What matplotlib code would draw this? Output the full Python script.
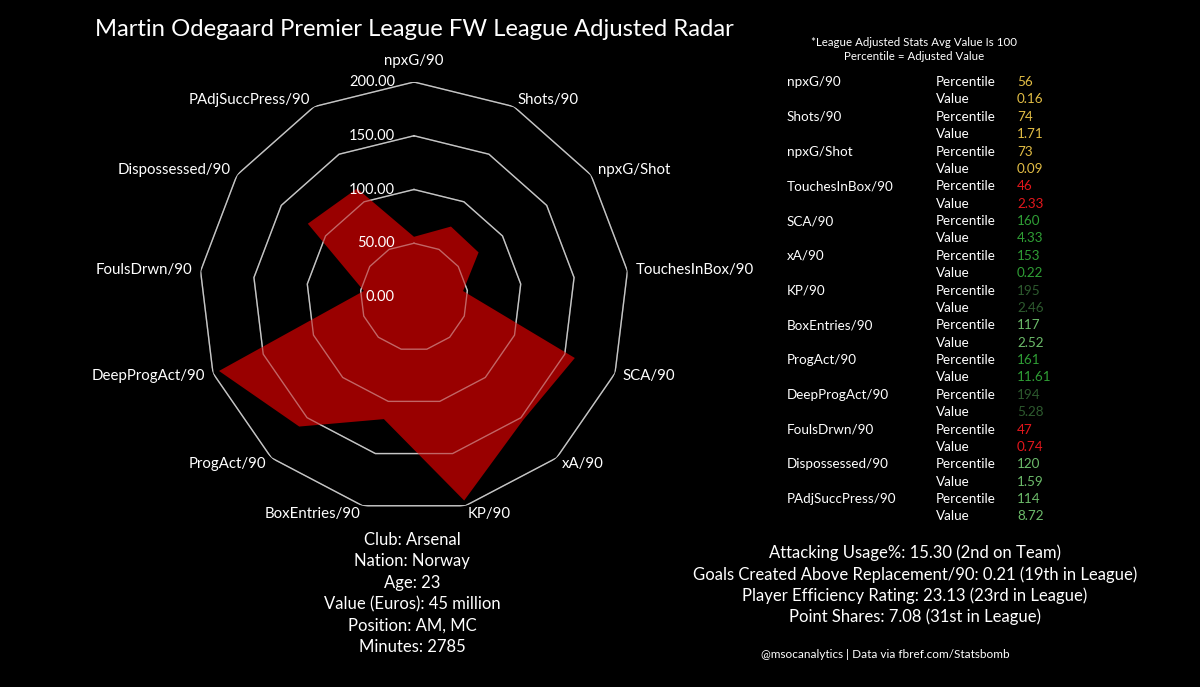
import numpy as np
import matplotlib
matplotlib.use("Agg")
import matplotlib.pyplot as plt
from matplotlib.transforms import offset_copy

plt.rcParams['font.family'] = ['Lato', 'DejaVu Sans']

# radar data (percentile = league adjusted value, avg 100)
metrics = ['npxG/90', 'Shots/90', 'npxG/Shot', 'TouchesInBox/90', 'SCA/90', 'xA/90', 'KP/90',
           'BoxEntries/90', 'ProgAct/90', 'DeepProgAct/90', 'FoulsDrwn/90', 'Dispossessed/90',
           'PAdjSuccPress/90']
percentiles = [56, 74, 73, 46, 160, 153, 195, 117, 161, 194, 47, 120, 114]
raw_values = ['0.16', '1.71', '0.09', '2.33', '4.33', '0.22', '2.46', '2.52', '11.61', '5.28',
              '0.74', '1.59', '8.72']
ring_values = [0, 50, 100, 150, 200]

player_info = ['Club: Arsenal', 'Nation: Norway', 'Age: 23', 'Value (Euros): 45 million',
               'Position: AM, MC', 'Minutes: 2785']
usage_lines = ['Attacking Usage%: 15.30 (2nd on Team)',
               'Goals Created Above Replacement/90: 0.21 (19th in League)',
               'Player Efficiency Rating: 23.13 (23rd in League)',
               'Point Shares: 7.08 (31st in League)']

title = 'Martin Odegaard Premier League FW League Adjusted Radar'
note = ['*League Adjusted Stats Avg Value Is 100', 'Percentile = Adjusted Value']
credit = '@msocanalytics | Data via fbref.com/Statsbomb'


def value_color(p):
    if p < 50:
        return '#e3171c'
    if p < 100:
        return '#e2bd45'
    if p < 140:
        return '#6cbb6a'
    if p < 180:
        return '#2f9e35'
    return '#2d5a2e'


W, H = 1200, 687
fig = plt.figure(figsize=(W / 100, H / 100), dpi=100, facecolor='black')


def px(x, y):
    return x / W, 1 - y / H


# radar
cx, cy, R = 414, 297, 215
ax = fig.add_axes([(cx - R) / W, 1 - (cy + R) / H, 2 * R / W, 2 * R / H], projection='polar')
ax.set_theta_zero_location('N')
ax.set_theta_direction(-1)
ax.set_ylim(0, 200)
ax.set_axis_off()

n = len(metrics)
theta = np.arange(n) * 2 * np.pi / n
th_c = np.append(theta, theta[0])
pct_c = np.append(percentiles, percentiles[0])

for r in ring_values[1:]:
    ax.plot(th_c, [r] * (n + 1), color='#a0a0a0', lw=1, zorder=1)
ax.fill(th_c, pct_c, color='#990000', lw=0, zorder=2)
for r in ring_values[1:]:
    ax.plot(th_c, [r] * (n + 1), color='white', alpha=0.4, lw=1, zorder=3)

for r in ring_values:
    tr = offset_copy(ax.transData, fig=fig, x=-19, y=0, units='dots')
    ax.text(0, r, f'{r:.2f}', transform=tr, ha='right', va='center', color='white',
            fontsize=10.5, zorder=4)

for t, name in zip(theta, metrics):
    s, c = np.sin(t), np.cos(t)
    if abs(s) < 0.05:
        ha, va, dx, dy = 'center', 'bottom', 0, 14
    else:
        ha = 'left' if s > 0 else 'right'
        va = 'center'
        dx, dy = 8 * s, 8 * c
    tr = offset_copy(ax.transData, fig=fig, x=dx, y=dy, units='dots')
    ax.text(t, 200, name, transform=tr, ha=ha, va=va, color='white', fontsize=10.8)

# title
fig.text(*px(414, 30), title, ha='center', va='center', color='white', fontsize=17.2)

# player info under the radar
for i, line in enumerate(player_info):
    fig.text(*px(412, 540 + i * 21.4), line, ha='center', va='center', color='white',
             fontsize=12)

# stats table
fig.text(*px(914, 42), note[0], ha='center', va='center', color='white', fontsize=8.3)
fig.text(*px(914, 56), note[1], ha='center', va='center', color='white', fontsize=8.3)
for i, (name, p, v) in enumerate(zip(metrics, percentiles, raw_values)):
    y = 82 + i * 34.75
    col = value_color(p)
    fig.text(*px(787, y), name, ha='left', va='center', color='white', fontsize=9.7)
    fig.text(*px(936, y), 'Percentile', ha='left', va='center', color='white', fontsize=9.7)
    fig.text(*px(936, y + 17.4), 'Value', ha='left', va='center', color='white', fontsize=9.7)
    fig.text(*px(1017, y), str(p), ha='left', va='center', color=col, fontsize=9.7)
    fig.text(*px(1017, y + 17.4), v, ha='left', va='center', color=col, fontsize=9.7)

for i, line in enumerate(usage_lines):
    fig.text(*px(915, 553 + i * 21.3), line, ha='center', va='center', color='white',
             fontsize=12)

fig.text(*px(885, 655), credit, ha='center', va='center', color='white', fontsize=8.5)

fig.savefig('out.png', dpi=100, facecolor='black')
